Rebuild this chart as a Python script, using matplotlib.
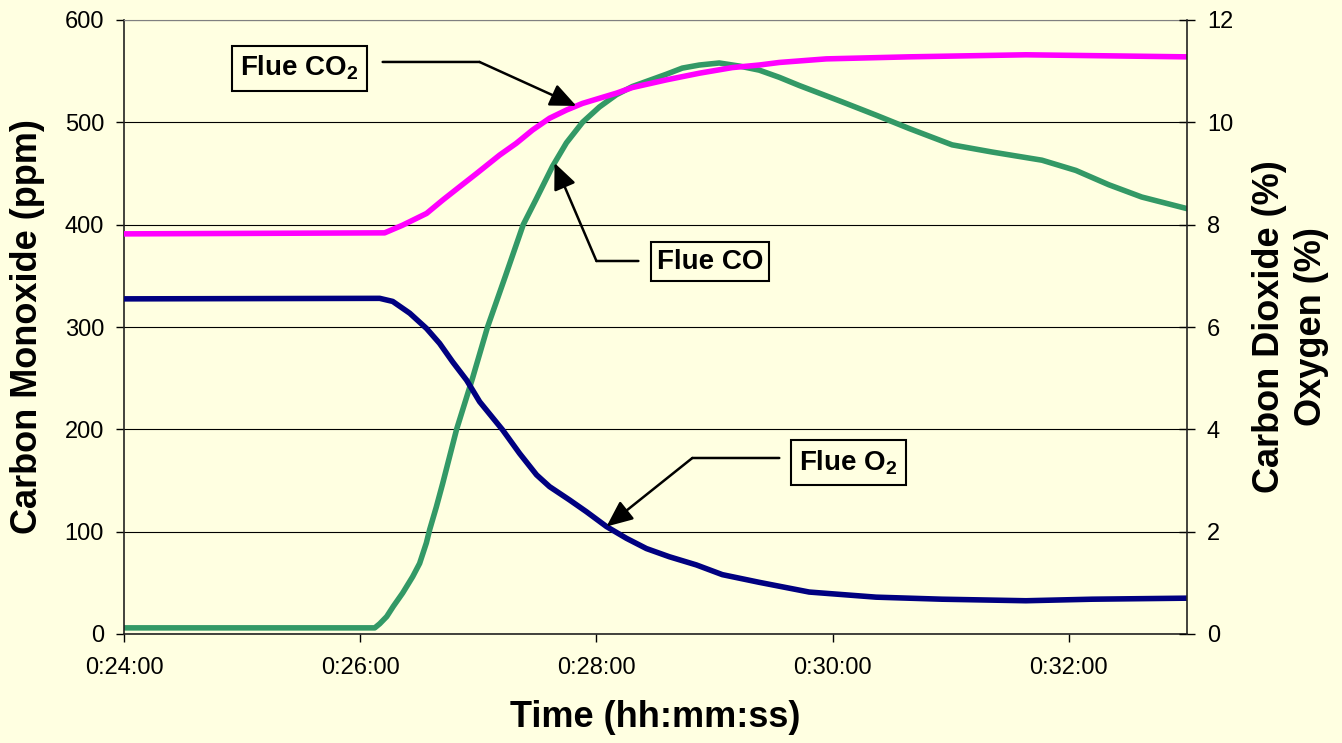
import matplotlib
matplotlib.use('Agg')
import matplotlib.pyplot as plt
import numpy as np

plt.rcParams['font.family'] = ['Liberation Sans', 'DejaVu Sans']
plt.rcParams['mathtext.fontset'] = 'custom'
plt.rcParams['mathtext.rm'] = 'Liberation Sans'
plt.rcParams['mathtext.bf'] = 'Liberation Sans:bold'
plt.rcParams['mathtext.it'] = 'Liberation Sans:italic'

# ---------------- data (time in minutes since 0:00:00) ----------------
co_time = [24.0, 26.123, 26.165, 26.224, 26.280, 26.359, 26.444, 26.503, 26.560,
           26.588, 26.644, 26.698, 26.816, 26.951, 27.078, 27.230, 27.380, 27.490,
           27.628, 27.746, 27.882, 28.025, 28.169, 28.304, 28.448, 28.592, 28.727,
           28.871, 29.040, 29.209, 29.378, 29.548, 29.717, 30.080, 30.368, 30.647,
           31.011, 31.349, 31.772, 32.059, 32.338, 32.617, 32.989]
co_ppm = [6, 6, 10, 17, 27, 40, 56, 69, 89,
          102, 124, 147, 200, 250, 300, 350, 400, 425,
          457, 480, 500, 515, 527, 535, 541, 547, 553,
          556, 558, 555, 551, 544, 536, 520, 507, 494,
          478, 471, 463, 453, 439, 427, 416]

co2_time = [24.0, 26.207, 26.359, 26.562, 26.698, 26.841, 26.985, 27.180, 27.321,
            27.459, 27.603, 27.746, 27.882, 28.025, 28.169, 28.304, 28.592, 28.871,
            29.150, 29.378, 29.548, 29.945, 30.647, 31.636, 32.989]
co2_pct = [7.82, 7.84, 7.99, 8.22, 8.48, 8.74, 9.00, 9.36, 9.59,
           9.85, 10.08, 10.24, 10.37, 10.47, 10.57, 10.68, 10.83, 10.96,
           11.07, 11.12, 11.17, 11.24, 11.28, 11.32, 11.28]

o2_time = [24.0, 26.165, 26.275, 26.419, 26.562, 26.672, 26.782, 26.901, 27.011,
           27.205, 27.349, 27.493, 27.603, 27.772, 27.915, 28.085, 28.254, 28.423,
           28.617, 28.846, 29.066, 29.378, 29.801, 30.368, 30.926, 31.636, 32.195,
           32.989]
o2_pct = [6.55, 6.56, 6.50, 6.27, 5.97, 5.68, 5.32, 4.96, 4.54,
          3.99, 3.53, 3.11, 2.88, 2.62, 2.39, 2.10, 1.87, 1.67,
          1.51, 1.35, 1.16, 1.01, 0.82, 0.72, 0.68, 0.65, 0.68,
          0.70]

tick_times = [24, 26, 28, 30, 32]
tick_labels = ['0:24:00', '0:26:00', '0:28:00', '0:30:00', '0:32:00']
left_ticks = [0, 100, 200, 300, 400, 500, 600]
right_ticks = [0, 2, 4, 6, 8, 10, 12]

# ---------------- style ----------------
BG = '#FFFFE1'
C_CO = '#339966'
C_CO2 = '#FF00FF'
C_O2 = '#000080'
LW = 4.0

fig = plt.figure(figsize=(13.42, 7.43), dpi=100, facecolor=BG)
ax = fig.add_axes([124 / 1342, 1 - 634 / 743, 1063 / 1342, 614 / 743])
ax.set_facecolor(BG)
ax2 = ax.twinx()

ax.plot(co_time, co_ppm, color=C_CO, lw=LW, solid_joinstyle='round')
ax2.plot(co2_time, co2_pct, color=C_CO2, lw=LW, solid_joinstyle='round')
ax2.plot(o2_time, o2_pct, color=C_O2, lw=LW, solid_joinstyle='round')

ax.set_xlim(24, 33)
ax.set_ylim(0, 600)
ax2.set_ylim(0, 12)

ax.set_xticks(tick_times)
ax.set_xticklabels(tick_labels)
ax.set_yticks(left_ticks)
ax2.set_yticks(right_ticks)

ax.yaxis.grid(True, color='#000000', lw=0.8)
ax.set_axisbelow(True)

ax.tick_params(axis='x', direction='out', length=5.8, width=1, labelsize=17, pad=11)
ax.tick_params(axis='y', direction='out', length=5.8, width=1, labelsize=17, pad=8.6)
ax2.tick_params(axis='y', direction='inout', length=11.5, width=1, labelsize=17, pad=8.6)

for a in (ax, ax2):
    for s in a.spines.values():
        s.set_visible(False)
ax.spines['left'].set_visible(True)
ax.spines['bottom'].set_visible(True)
ax.spines['top'].set_visible(True)
ax.spines['top'].set_color('#808080')
ax.spines['top'].set_linewidth(0.8)
ax2.spines['right'].set_visible(True)
for s in (ax.spines['left'], ax.spines['bottom'], ax2.spines['right']):
    s.set_linewidth(1.2)
    s.set_color('#222222')

ax.set_ylabel('Carbon Monoxide (ppm)', fontsize=26, fontweight='bold')
ax.yaxis.set_label_coords(-0.0743, 0.5)
ax2.set_ylabel('Carbon Dioxide (%)\nOxygen (%)', fontsize=26, fontweight='bold',
               multialignment='center', linespacing=1.24)
ax2.yaxis.set_label_coords(1.0612, 0.5)
ax.set_xlabel('Time (hh:mm:ss)', fontsize=26, fontweight='bold')
ax.xaxis.set_label_coords(0.5, -0.1075)

# ---------------- annotations ----------------
def ann(label, center, start, elbow, tip_t, tip_series, tip_axis, pad):
    ax2.text(center[0], center[1], label, transform=ax.transData, fontsize=20,
             fontweight='bold', ha='center', va='center',
             bbox=dict(boxstyle='square,pad=%g' % pad, fc=BG, ec='black', lw=1.5))
    ax2.annotate('', xy=elbow, xytext=start, xycoords=ax.transData,
                 textcoords=ax.transData,
                 arrowprops=dict(arrowstyle='-', lw=1.8, color='black',
                                 shrinkA=0, shrinkB=0))
    t_arr, v_arr = tip_series
    tip = (tip_t, float(np.interp(tip_t, t_arr, v_arr)))
    ax2.annotate('', xy=tip, xytext=elbow, xycoords=tip_axis.transData,
                 textcoords=ax.transData,
                 arrowprops=dict(arrowstyle='-|>,head_length=0.8,head_width=0.35',
                                 lw=1.8, color='black', shrinkA=0, shrinkB=0,
                                 mutation_scale=20))

ann(r'Flue CO$_\mathbf{2}$', (25.488, 553), (26.19, 559), (27.01, 559),
    27.83, (co2_time, co2_pct), ax2, 0.3)
ann('Flue CO', (28.96, 364), (28.355, 364.5), (28.0, 364.5),
    27.645, (co_time, co_ppm), ax, 0.22)
ann(r'Flue O$_\mathbf{2}$', (30.131, 167.6), (29.548, 172), (28.812, 172),
    28.085, (o2_time, o2_pct), ax2, 0.3)

fig.savefig('out.png', dpi=100, facecolor=BG)
